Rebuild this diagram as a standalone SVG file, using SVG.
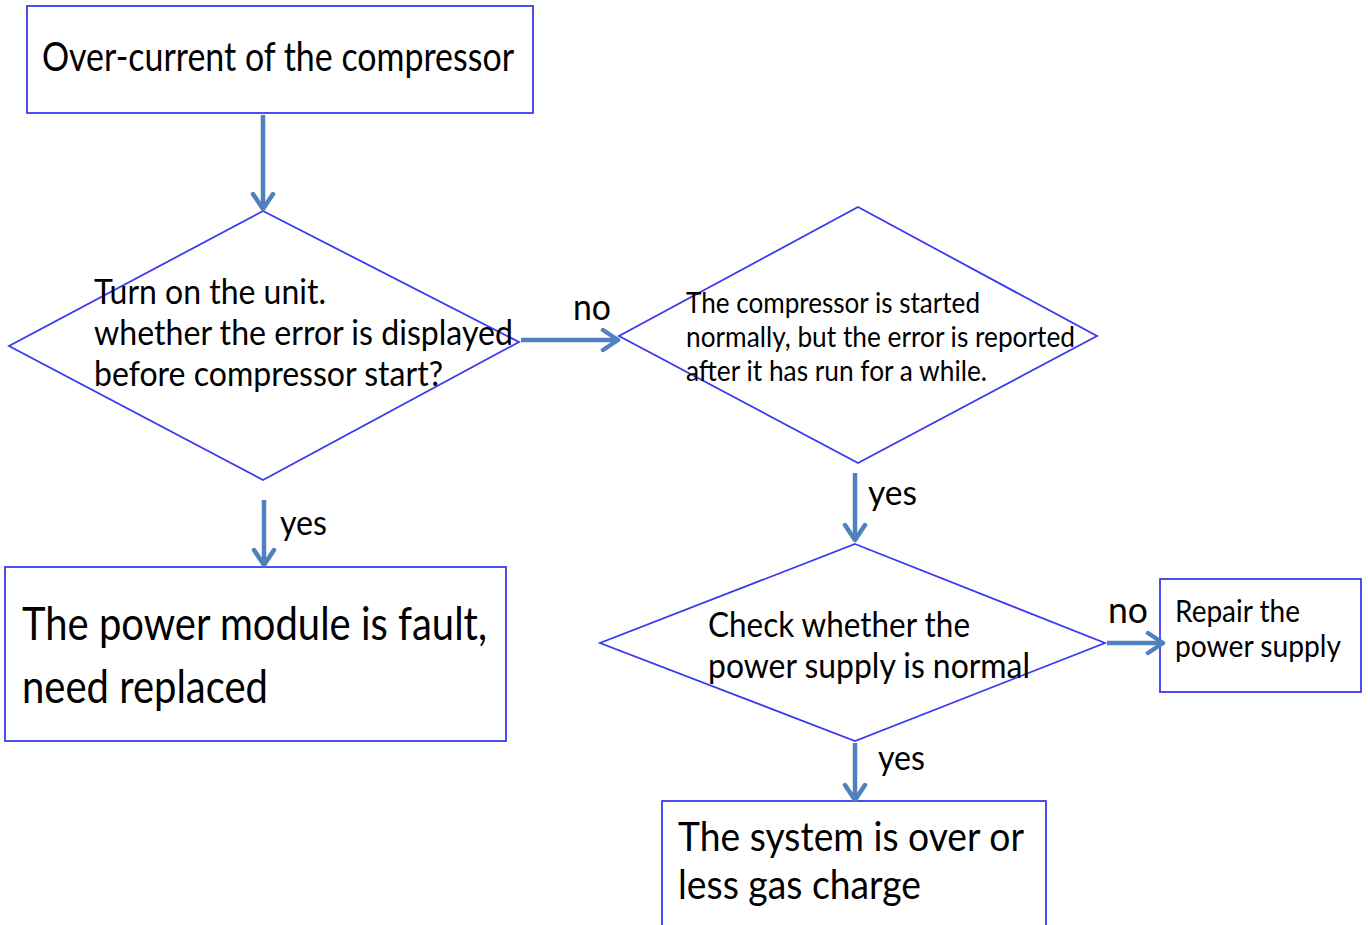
<svg xmlns="http://www.w3.org/2000/svg" width="1368" height="925" viewBox="0 0 1368 925">
<style>
.n{fill:#ffffff;stroke:#3a3af0;stroke-width:1.8}
.t{font-family:Lato,"Open Sans","Liberation Sans",sans-serif;fill:#000}
.c{stroke:#4f81bd;stroke-width:4.5;fill:none}
</style>
<defs>
<marker id="ah" markerUnits="userSpaceOnUse" viewBox="0 0 26 26" refX="22" refY="13" markerWidth="26" markerHeight="26" orient="auto">
<polyline points="7,3 22,13 7,23" fill="none" stroke="#4f81bd" stroke-width="4.5" stroke-linecap="round" stroke-linejoin="round"/>
</marker>
</defs>
<rect width="1368" height="925" fill="#ffffff"/>
<g id="n1">
<rect class="n" x="27" y="6" width="506" height="107"/>
<text class="t" x="42" y="71" font-size="40" textLength="472" lengthAdjust="spacingAndGlyphs">Over-current of the compressor</text>
</g>
<g id="d1">
<polygon class="n" points="263,211 519,342 263,480 9,346"/>
<text class="t" font-size="34"><tspan x="94" y="304" textLength="232" lengthAdjust="spacingAndGlyphs">Turn on the unit.</tspan><tspan x="94" y="345" textLength="419" lengthAdjust="spacingAndGlyphs">whether the error is displayed</tspan><tspan x="94" y="386" textLength="349" lengthAdjust="spacingAndGlyphs">before compressor start?</tspan></text>
</g>
<g id="d2">
<polygon class="n" points="858,207 1097,336 858,463 619,336"/>
<text class="t" font-size="29"><tspan x="686" y="313" textLength="294" lengthAdjust="spacingAndGlyphs">The compressor is started</tspan><tspan x="686" y="347" textLength="389" lengthAdjust="spacingAndGlyphs">normally, but the error is reported</tspan><tspan x="686" y="381" textLength="301" lengthAdjust="spacingAndGlyphs">after it has run for a while.</tspan></text>
</g>
<g id="d3">
<polygon class="n" points="855,544 1105,643 855,741 600,643"/>
<text class="t" font-size="34"><tspan x="708" y="637" textLength="262" lengthAdjust="spacingAndGlyphs">Check whether the</tspan><tspan x="708" y="678" textLength="322" lengthAdjust="spacingAndGlyphs">power supply is normal</tspan></text>
</g>
<g id="n2">
<rect class="n" x="1160" y="579" width="201" height="113"/>
<text class="t" font-size="31"><tspan x="1175" y="622" textLength="125" lengthAdjust="spacingAndGlyphs">Repair the</tspan><tspan x="1175" y="657" textLength="166" lengthAdjust="spacingAndGlyphs">power supply</tspan></text>
</g>
<g id="n3">
<rect class="n" x="662" y="801" width="384" height="140"/>
<text class="t" font-size="41"><tspan x="678" y="851" textLength="346" lengthAdjust="spacingAndGlyphs">The system is over or</tspan><tspan x="678" y="899" textLength="243" lengthAdjust="spacingAndGlyphs">less gas charge</tspan></text>
</g>
<g id="n4">
<rect class="n" x="5" y="567" width="501" height="174"/>
<text class="t" font-size="46"><tspan x="22" y="640" textLength="465" lengthAdjust="spacingAndGlyphs">The power module is fault,</tspan><tspan x="22" y="703" textLength="246" lengthAdjust="spacingAndGlyphs">need replaced</tspan></text>
</g>
<g id="connectors">
<line class="c" x1="263" y1="115" x2="263" y2="209" marker-end="url(#ah)"/>
<line class="c" x1="521" y1="340" x2="618" y2="340" marker-end="url(#ah)"/>
<line class="c" x1="264" y1="500" x2="264" y2="565" marker-end="url(#ah)"/>
<line class="c" x1="855" y1="473" x2="855" y2="540" marker-end="url(#ah)"/>
<line class="c" x1="1107" y1="643" x2="1163" y2="643" marker-end="url(#ah)"/>
<line class="c" x1="855" y1="743" x2="855" y2="800" marker-end="url(#ah)"/>
<text class="t" x="573" y="320" font-size="37" textLength="38" lengthAdjust="spacingAndGlyphs">no</text>
<text class="t" x="1108" y="623" font-size="37" textLength="40" lengthAdjust="spacingAndGlyphs">no</text>
<text class="t" x="280" y="535" font-size="35" textLength="47" lengthAdjust="spacingAndGlyphs">yes</text>
<text class="t" x="868" y="505" font-size="35" textLength="49" lengthAdjust="spacingAndGlyphs">yes</text>
<text class="t" x="878" y="770" font-size="35" textLength="47" lengthAdjust="spacingAndGlyphs">yes</text>
</g>
</svg>
